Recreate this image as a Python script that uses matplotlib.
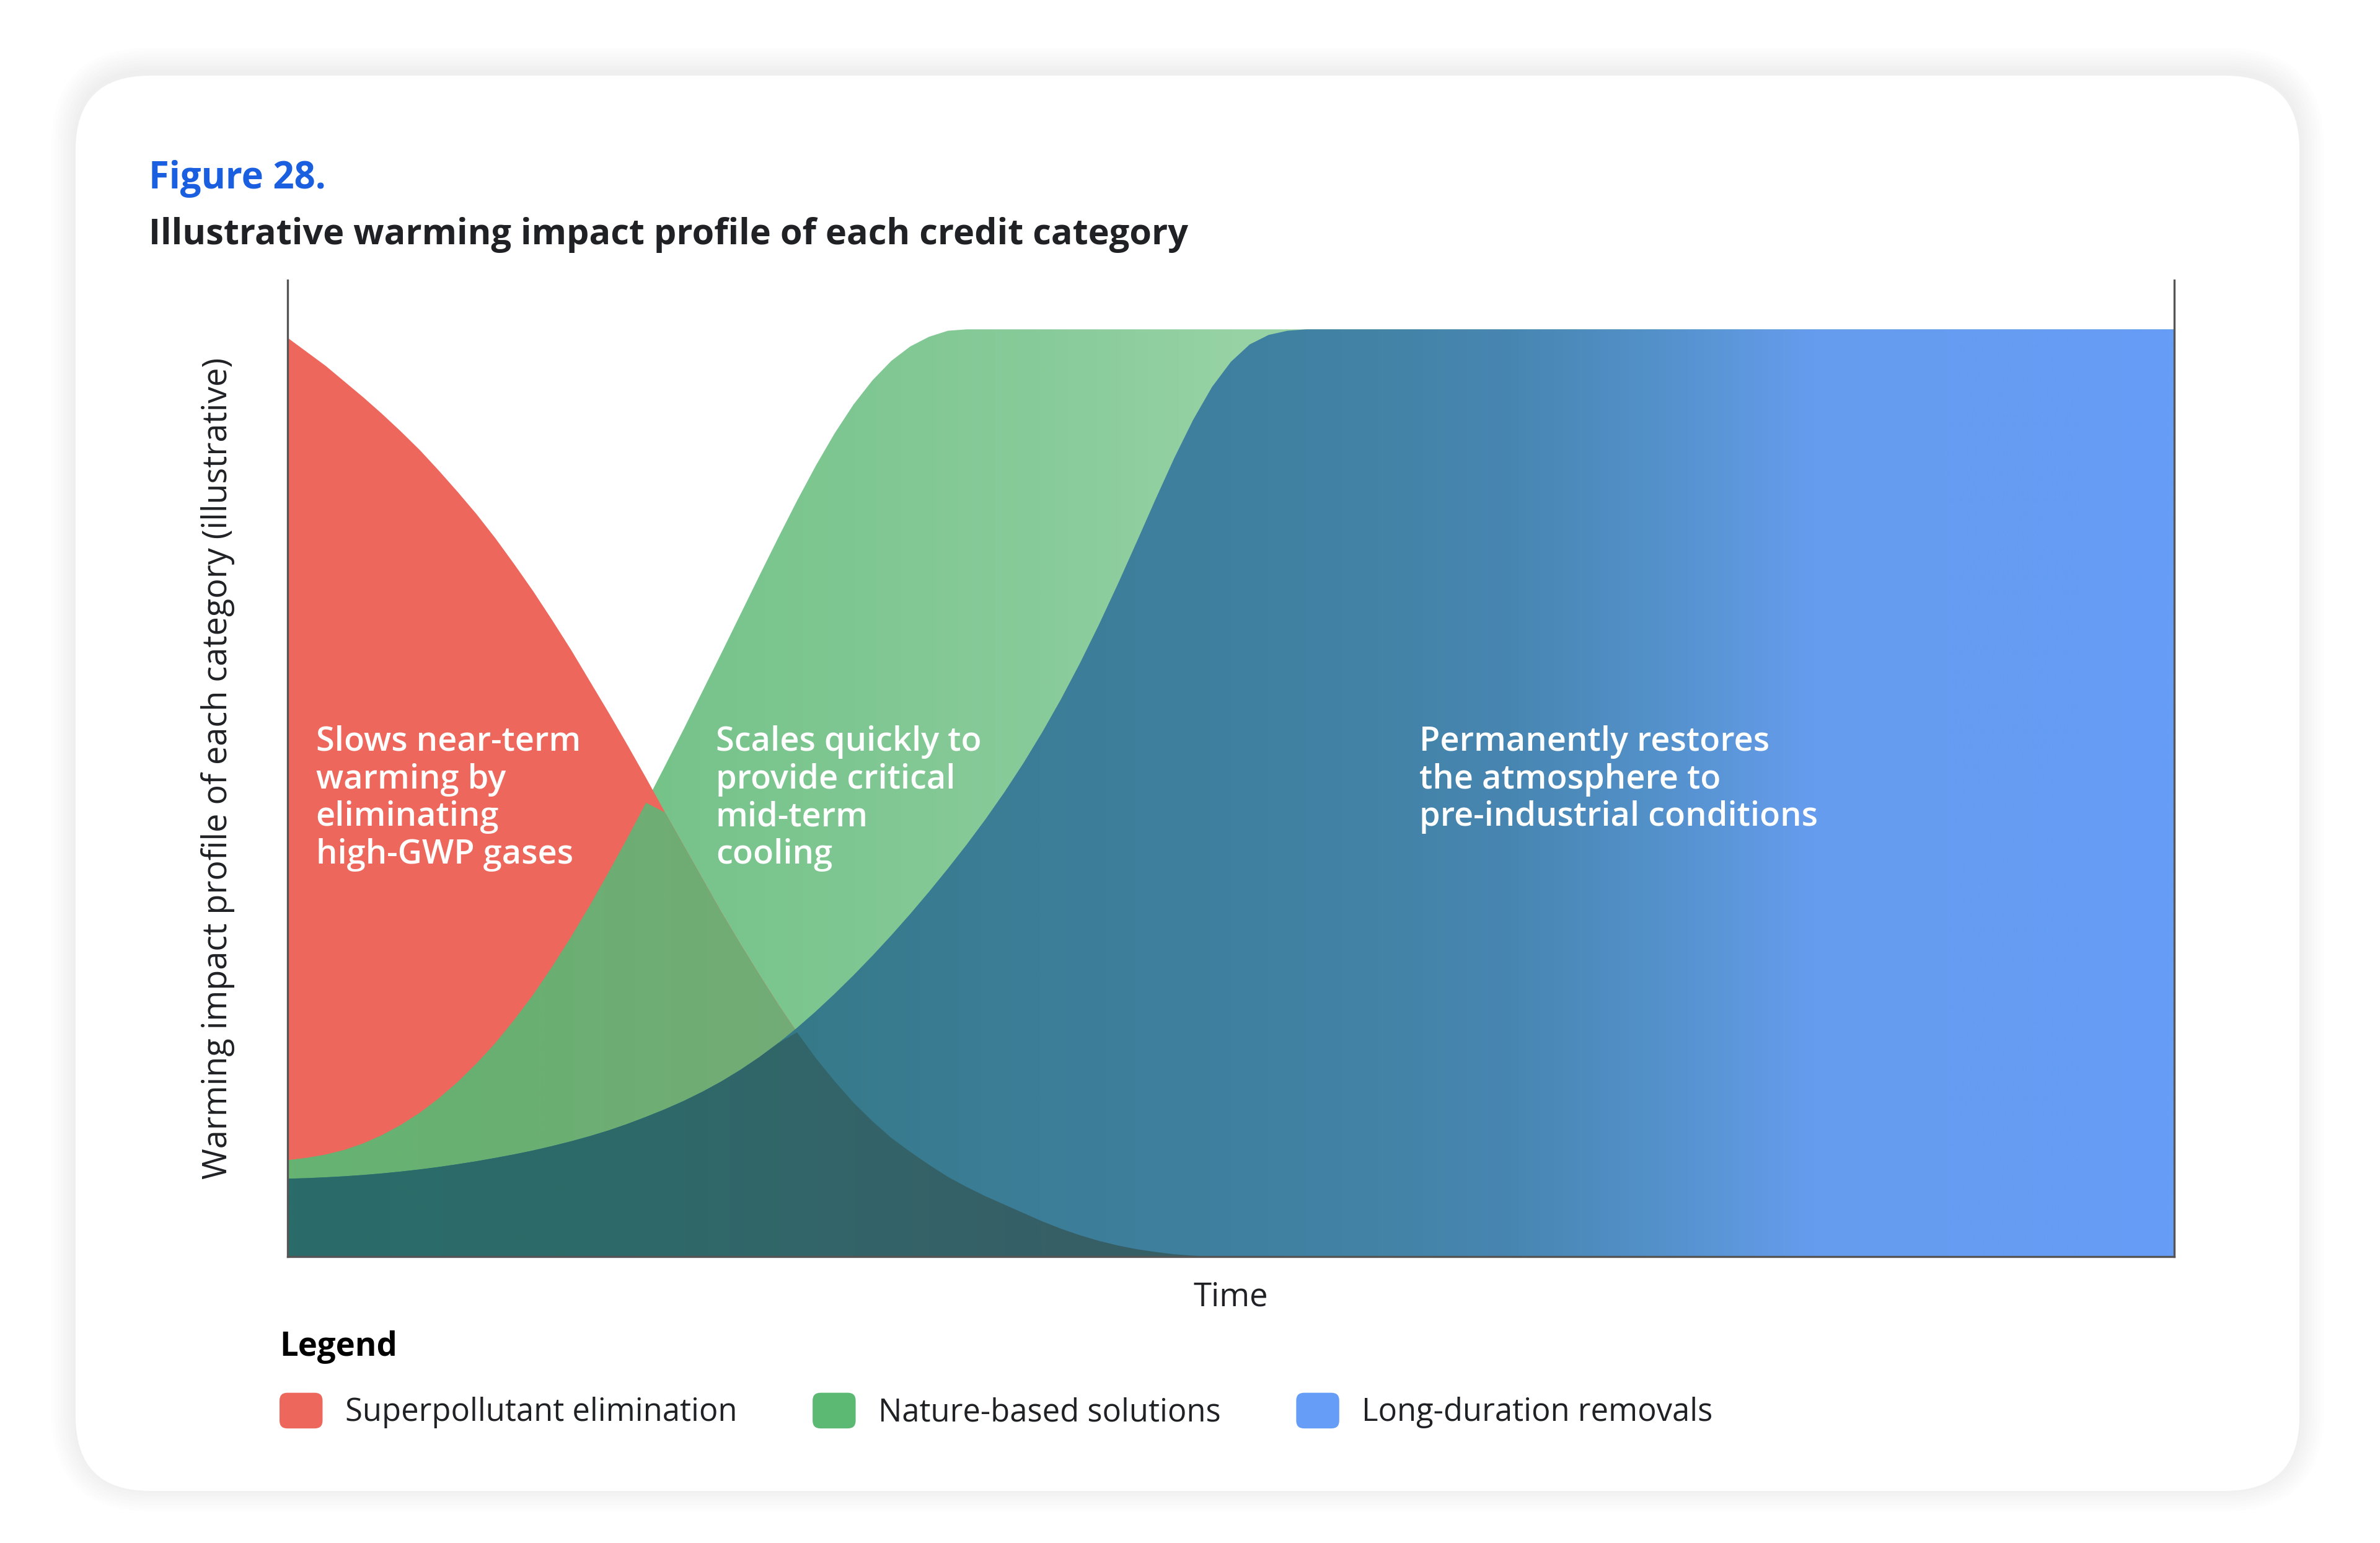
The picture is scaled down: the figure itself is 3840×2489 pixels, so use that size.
"""Illustrative warming impact profile of each credit category."""

import numpy as np
import matplotlib
matplotlib.use('Agg')
import matplotlib.pyplot as plt
from matplotlib.colors import LinearSegmentedColormap
from matplotlib.patches import FancyBboxPatch, Patch
from matplotlib.legend_handler import HandlerPatch
from matplotlib.path import Path
from matplotlib.transforms import IdentityTransform

plt.rcParams['font.family'] = ['Open Sans', 'DejaVu Sans']

#########################################################################################
# Data (illustrative profiles)

time = list(range(0, 57)) + [60, 70, 80, 90, 100]

superpollutant = [0.991, 0.976, 0.961, 0.944, 0.927, 0.909, 0.890, 0.870, 0.848, 0.825,
                  0.801, 0.775, 0.747, 0.718, 0.687, 0.655, 0.621, 0.587, 0.552, 0.516,
                  0.479, 0.443, 0.407, 0.371, 0.337, 0.304, 0.272, 0.242, 0.214, 0.189,
                  0.166, 0.146, 0.128, 0.113, 0.099, 0.086, 0.075, 0.065, 0.056, 0.047,
                  0.038, 0.030, 0.023, 0.017, 0.012, 0.008, 0.005, 0.0025, 0.001] + [0.0] * 13

nature_based = [0.104, 0.1065, 0.110, 0.115, 0.122, 0.131, 0.142, 0.155, 0.1705, 0.188,
                0.208, 0.230, 0.255, 0.282, 0.312, 0.344, 0.378, 0.414, 0.451, 0.4895,
                0.529, 0.569, 0.610, 0.651, 0.6925, 0.734, 0.775, 0.815, 0.853, 0.888,
                0.919, 0.945, 0.966, 0.9815, 0.992, 0.9985, 1.0] + [1.0] * 25

long_duration = [0.084, 0.0846, 0.0855, 0.0866, 0.088, 0.0897, 0.0917, 0.094, 0.0966, 0.0996,
                 0.1028, 0.1064, 0.1102, 0.1144, 0.1191, 0.1242, 0.1298, 0.136, 0.143, 0.1507,
                 0.1589, 0.1679, 0.1779, 0.189, 0.2014, 0.2151, 0.2302, 0.2467, 0.2645, 0.2835,
                 0.3035, 0.3245, 0.3465, 0.3695, 0.3935, 0.4185, 0.4445, 0.4719, 0.501, 0.5321,
                 0.5655, 0.6014, 0.640, 0.6813, 0.725, 0.7704, 0.8165, 0.8613, 0.9025, 0.9379,
                 0.965, 0.9838, 0.994, 0.9985, 1.0] + [1.0] * 7

categories = ['Superpollutant elimination', 'Nature-based solutions', 'Long-duration removals']
notes = ['Slows near-term\nwarming by\neliminating\nhigh-GWP gases',
         'Scales quickly to\nprovide critical\nmid-term\ncooling',
         'Permanently restores\nthe atmosphere to\npre-industrial conditions']

#########################################################################################
# Styles

RED, GREEN, BLUE = '#ee675c', '#5bb974', '#669df6'

# horizontal colour stops (position along time axis, colour) for each overlap region
green_only = [(0, '#72c187'), (19, '#76c38a'), (30, '#7fc792'), (40, '#88cb9a'),
              (50, '#96d2a4'), (100, '#a0d6ad')]
green_red = [(0, '#66b372'), (10, '#69b072'), (20, '#6fad74'), (30, '#74ab76'), (100, '#74ab76')]
blue_only = [(0, '#347986'), (27, '#367a8a'), (40, '#3c7e98'), (50, '#3f80a0'), (58, '#4383a6'),
             (65, '#4886b2'), (72, '#5290c8'), (77, '#5d97dc'), (81, '#669cee'), (100, '#669df6')]
blue_red = [(0, '#2a6c69'), (16, '#2d6a69'), (26, '#32666a'), (40, '#365f66'), (100, '#375d64')]


def gradient_fill(ax, lo, hi, stops, zorder):
    """Fill between two curves with a left-to-right colour gradient."""
    poly = ax.fill_between(time, lo, hi, where=np.asarray(hi) > np.asarray(lo),
                           interpolate=True, facecolor='none', edgecolor='none')
    path = Path.make_compound_path(*poly.get_paths())
    cmap = LinearSegmentedColormap.from_list('g', [(p / 100, c) for p, c in stops])
    im = ax.imshow(np.linspace(0, 1, 1024).reshape(1, -1), cmap=cmap, aspect='auto',
                   extent=(0, 100, 0, 1.06), origin='lower', interpolation='bilinear',
                   zorder=zorder)
    im.set_clip_path(path, transform=ax.transData)
    poly.remove()
    return im


class RoundHandle(HandlerPatch):
    def create_artists(self, legend, orig_handle, xdescent, ydescent, width, height,
                       fontsize, trans):
        box = FancyBboxPatch((-xdescent, -ydescent), width, height,
                             boxstyle='round,pad=0,rounding_size=%f' % (height * 0.22),
                             facecolor=orig_handle.get_facecolor(), edgecolor='none',
                             transform=trans)
        return [box]


#########################################################################################
# Figure & card

fig = plt.figure(figsize=(38.4, 24.89), dpi=100)
fig.patch.set_facecolor('white')

for i in range(8):
    pad = 4 + i * 5
    fig.patches.append(FancyBboxPatch((122, 84 + 6), 3588, 2283, transform=IdentityTransform(),
                                      boxstyle='round,pad=%d,rounding_size=%d' % (pad, 120 + pad),
                                      facecolor='black', edgecolor='none', alpha=0.006, zorder=0))
fig.patches.append(FancyBboxPatch((122, 84), 3588, 2283, transform=IdentityTransform(),
                                  boxstyle='round,pad=0,rounding_size=120',
                                  facecolor='white', edgecolor='none', zorder=1))

ax = fig.add_axes([464 / 3840, 1 - 2027 / 2489, 3044 / 3840, 1575 / 2489])
ax.set_facecolor('none')
ax.set_zorder(2)

# Layers, painted over one another
zeros = np.zeros(len(time))
gradient_fill(ax, zeros, nature_based, green_only, 1)
ax.fill_between(time, 0, superpollutant, color=RED, linewidth=0, zorder=2)
gradient_fill(ax, zeros, np.minimum(nature_based, superpollutant), green_red, 3)
gradient_fill(ax, zeros, long_duration, blue_only, 4)
gradient_fill(ax, zeros, np.minimum(long_duration, superpollutant), blue_red, 5)

ax.set_xlim(0, 100)
ax.set_ylim(0, 1.053)

# Annotations
for xpos, txt in zip([1.5, 22.7, 60.0], notes):
    ax.text(xpos, 0.573, txt, color='white', fontsize=39, fontweight='semibold',
            va='top', ha='left', linespacing=1.16, zorder=20)

# Axes styling
ax.set_xticks([])
ax.set_yticks([])
ax.spines['top'].set_visible(False)
for side in ['left', 'right', 'bottom']:
    ax.spines[side].set_color('#555555')
    ax.spines[side].set_linewidth(2.4)
    ax.spines[side].set_zorder(10)

ax.set_ylabel('Warming impact profile of each category (illustrative)', fontsize=38.8,
              color='#202124')
ax.yaxis.set_label_coords(-0.028, 0.5)
ax.set_xlabel('Time', fontsize=38, color='#202124')
ax.xaxis.set_label_coords(0.5, -0.025)

# Titles
fig.text(240 / 3840, 1 - 304 / 2489, 'Figure 28.', color='#1a5fe0', fontsize=43,
         fontweight='bold', va='baseline')
fig.text(240 / 3840, 1 - 394 / 2489, 'Illustrative warming impact profile of each credit category',
         color='#202124', fontsize=41.5, fontweight='bold', va='baseline')

# Legend
handles = [Patch(facecolor=c) for c in [RED, GREEN, BLUE]]
leg = fig.legend(handles, categories, loc='upper left', ncol=3,
                 bbox_to_anchor=(451 / 3840, 1 - 2146 / 2489), bbox_transform=fig.transFigure,
                 frameon=False, fontsize=36.5, title='Legend', alignment='left',
                 title_fontproperties={'weight': 'bold', 'size': 38},
                 handlelength=1.37, handleheight=1.37, handletextpad=0.72,
                 columnspacing=2.4, borderpad=0, borderaxespad=0, labelspacing=0.92,
                 handler_map={Patch: RoundHandle()})
for t in leg.get_texts():
    t.set_color('#202124')

fig.savefig('out.png', dpi=100, facecolor='white')
